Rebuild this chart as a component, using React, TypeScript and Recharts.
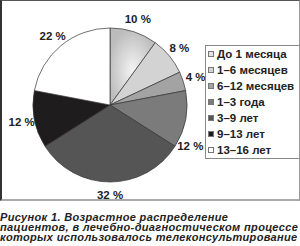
import { Cell, Legend, Pie, PieChart } from 'recharts';

const categories = [
  'До 1 месяца',
  '1–6 месяцев',
  '6–12 месяцев',
  '1–3 года',
  '3–9 лет',
  '9–13 лет',
  '13–16 лет',
];
const shares = [10, 8, 4, 12, 32, 12, 22];
const fills = ['url(#grad1)', '#d3d3d3', '#a3a3a3', '#7b7b7b', '#555555', '#1f1c1d', '#ffffff'];
const captionLines = [
  'Рисунок 1. Возрастное распределение',
  'пациентов, в лечебно-диагностическом процессе',
  'которых использовалось телеконсультирование',
];

const chartData = categories.map((name, i) => ({ name, value: shares[i] }));

const RAD = Math.PI / 180;
const font = '"Liberation Sans", Arial, sans-serif';

const renderLabel = (props: any) => {
  const { cx, cy, midAngle, outerRadius, value } = props;
  const r = outerRadius + 13;
  let a = midAngle;
  // keep the label clear of the legend box on the right
  if (cx + r * Math.cos(-a * RAD) > 182 && cy + r * Math.sin(-a * RAD) > cy + 8) a -= 16;
  const x = cx + r * Math.cos(-a * RAD);
  const y = cy + r * Math.sin(-a * RAD);
  return (
    <text
      x={x}
      y={y}
      textAnchor="middle"
      dominantBaseline="central"
      fontSize={11.5}
      fontWeight="bold"
      fontFamily={font}
      fill="#222"
    >
      {value} %
    </text>
  );
};

const renderLegend = () => (
  <div
    style={{
      border: '1px solid #888',
      borderRight: 'none',
      width: 93,
      fontFamily: font,
      fontSize: 11.5,
      fontWeight: 'bold',
      color: '#222',
    }}
  >
    {categories.map((c, i) => (
      <div key={c} style={{ height: 16, lineHeight: '16px', display: 'flex', alignItems: 'center', whiteSpace: 'nowrap' }}>
        <span
          style={{
            display: 'inline-block',
            width: 4,
            height: 4,
            marginLeft: 2,
            marginRight: 3,
            border: '1px solid #777',
            background: i === 0 ? '#e4e4e4' : fills[i],
          }}
        />
        {c}
      </div>
    ))}
  </div>
);

const App = () => {
  return (
    <div style={{ position: 'absolute', left: 0, top: 0, width: 300, height: 246, background: '#fff' }}>
      <div style={{ position: 'relative', width: 300, height: 201 }}>
        <div
          style={{
            position: 'absolute',
            left: 0,
            top: 0,
            width: 297,
            height: 198,
            borderLeft: '2px solid #333',
            borderTop: '1px solid #555',
            borderRight: '1px solid #999',
            borderBottom: '2px solid #aaa',
          }}
        />
        <div style={{ position: 'absolute', left: 0, top: 0 }}>
          <PieChart width={300} height={201}>
            <defs>
              <radialGradient id="grad1" cx="0.5" cy="0.55" r="0.55">
                <stop offset="0%" stopColor="#f4f4f4" />
                <stop offset="100%" stopColor="#bcbcbc" />
              </radialGradient>
            </defs>
            <Pie
              data={chartData}
              dataKey="value"
              nameKey="name"
              cx={105}
              cy={100}
              outerRadius={77}
              startAngle={90}
              endAngle={-270}
              stroke="#333"
              strokeWidth={0.7}
              label={renderLabel}
              labelLine={false}
              isAnimationActive={false}
            >
              {chartData.map((d, i) => (
                <Cell key={d.name} fill={fills[i]} />
              ))}
            </Pie>
            <Legend
              layout="vertical"
              content={renderLegend}
              wrapperStyle={{ left: 205, top: 45, width: 94 }}
            />
          </PieChart>
        </div>
      </div>
      <div
        style={{
          position: 'absolute',
          left: 0,
          top: 212,
          fontFamily: font,
          fontSize: 11,
          fontWeight: 'bold',
          fontStyle: 'italic',
          letterSpacing: 0.35,
          lineHeight: '10.2px',
          color: '#222',
          whiteSpace: 'nowrap',
        }}
      >
        {captionLines.map((l) => (
          <div key={l}>{l}</div>
        ))}
      </div>
    </div>
  );
};

export default App;
